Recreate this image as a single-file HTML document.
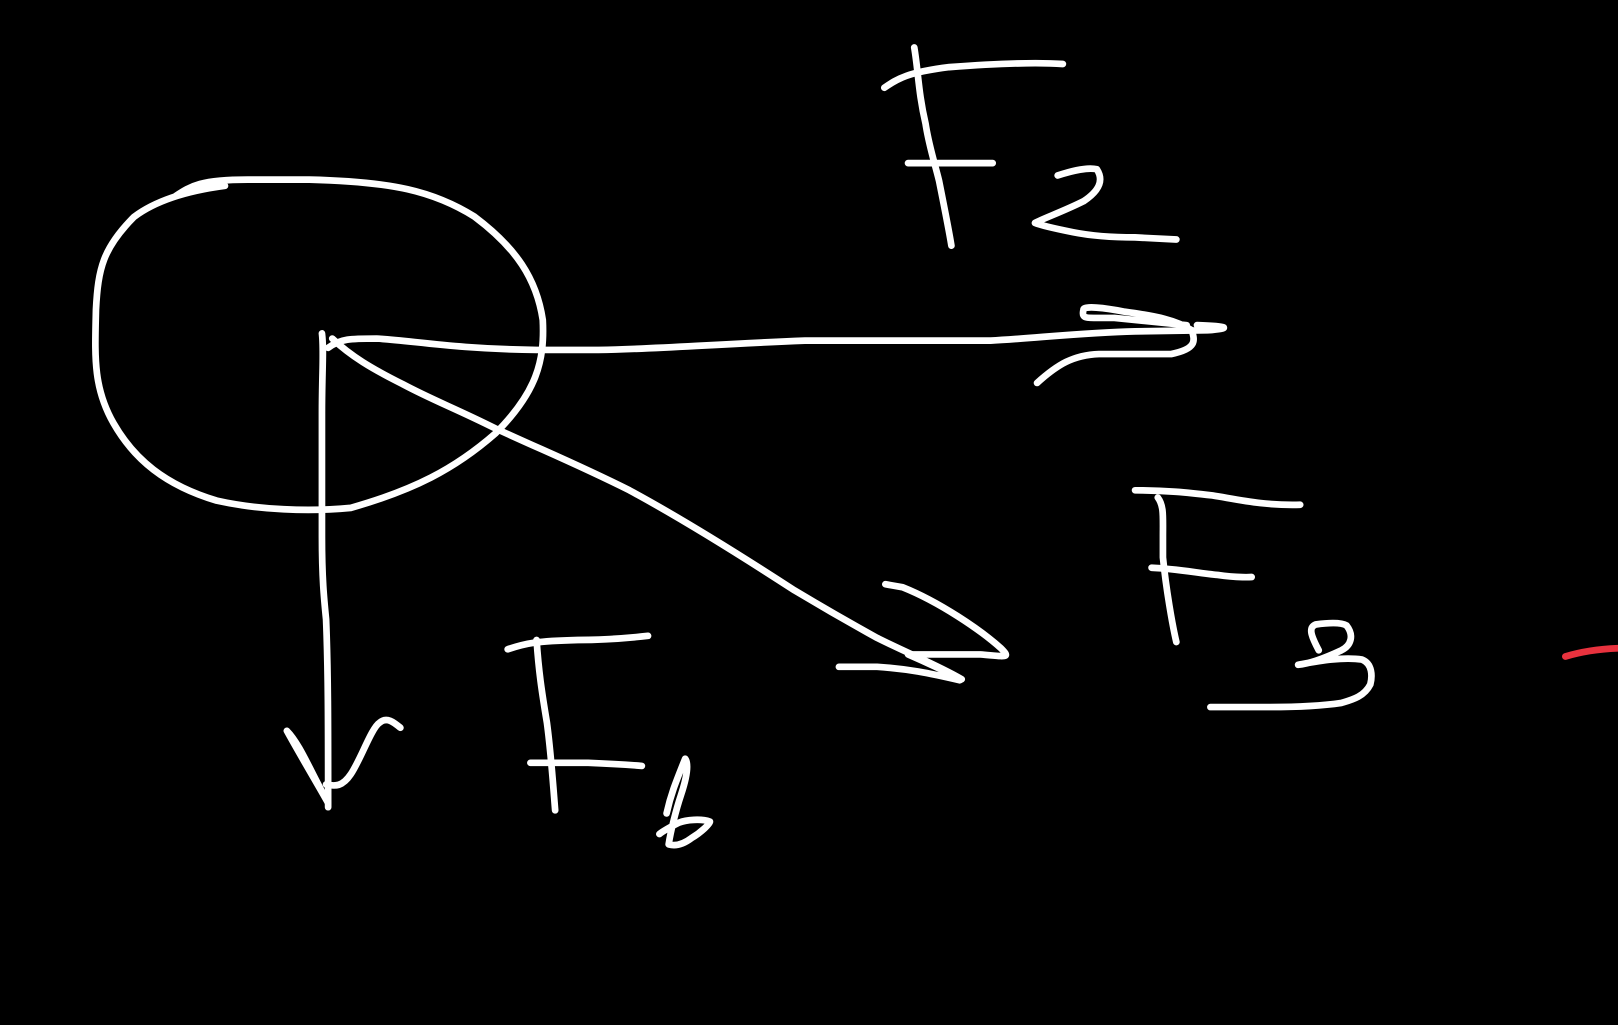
<!DOCTYPE html>
<html><head><meta charset="utf-8"><style>
html,body{margin:0;padding:0;background:#000;width:1618px;height:1025px;overflow:hidden}
svg{display:block}
</style></head><body>
<svg width="1618" height="1025" viewBox="0 0 1568 993" preserveAspectRatio="none" xmlns="http://www.w3.org/2000/svg">
<rect width="1568" height="993" fill="#000"/>
<g fill="none" stroke="#fff" stroke-width="6.5" stroke-linecap="round" stroke-linejoin="round">
<path d="M170,190 C185,180 195,174 240,174 L300,174 C380,176 420,185 460,210 C500,240 520,270 526,310 C528,350 520,380 480,420 C440,455 400,475 340,492 C300,496 250,494 210,485 C160,470 130,445 110,410 C90,375 92,345 93,300 C95,260 100,240 130,210 C150,195 180,185 218,180"/>
<path d="M312,323 C314,340 312,360 312,400 L312,520 C312,560 314,580 316,600 C318,650 318,700 318,782"/>
<path d="M278,708 C290,720 300,745 318,778 C308,760 290,730 278,708"/>
<path d="M316,760 C325,762 332,762 340,750 C350,735 360,705 368,700 C375,694 382,700 388,705"/>
<path d="M318,337 C330,328 340,328 365,328 C400,330 440,338 520,339 L580,339 C640,338 680,334 780,330 L960,330 C1000,328 1050,322 1100,321 L1170,320 C1195,318 1190,316 1160,315"/>
<path d="M1005,371 C1025,353 1040,344 1065,343 L1135,343 C1160,338 1158,330 1155,320 C1140,310 1120,306 1090,302 C1070,298 1050,296 1050,300 C1048,308 1052,308 1060,308 L1080,308 C1100,310 1120,312 1150,315"/>
<path d="M322,328 C340,345 360,357 390,372 C420,388 440,395 480,415 C530,438 560,450 610,475 C660,502 710,533 770,572 C800,590 830,607 850,618 C880,633 910,645 932,658"/>
<path d="M813,646 L850,646 C880,648 900,652 930,659 C935,658 880,634 880,634 L950,634 C975,636 980,638 970,628 C950,610 910,583 875,569 L858,566"/>
<path d="M886,46 C890,70 890,90 897,120 C900,140 905,155 910,175 C915,200 920,225 922,238"/>
<path d="M857,85 C870,76 880,70 920,65 C960,62 1000,60 1030,62"/>
<path d="M880,158 L962,158"/>
<path d="M1025,170 C1040,165 1055,162 1063,164 C1070,175 1065,185 1050,195 C1030,205 1010,212 1003,216 C1010,219 1025,222 1040,225 C1060,229 1080,230 1100,230 L1140,232"/>
<path d="M1100,475 C1130,475 1150,477 1175,480 C1200,484 1225,490 1260,489"/>
<path d="M1122,482 C1128,490 1127,500 1127,520 L1127,540 C1130,570 1136,605 1140,622"/>
<path d="M1116,550 C1140,551 1160,555 1180,557 C1200,560 1213,559 1213,559"/>
<path d="M1278,630 C1270,615 1268,608 1275,605 C1290,603 1300,603 1305,606 C1312,615 1310,625 1300,630 C1285,637 1270,643 1258,644 C1275,641 1300,636 1320,639 C1330,643 1330,655 1328,663 C1322,675 1310,678 1300,681 C1280,684 1260,685 1230,685 L1173,685"/>
<path d="M492,629 C510,623 520,621 560,620 C590,620 610,618 628,616"/>
<path d="M520,620 C522,650 525,670 530,700 C534,730 536,760 538,785"/>
<path d="M514,739 L570,739 C595,740 610,741 622,742"/>
<path d="M646,788 C650,770 654,760 664,735 C668,740 665,755 660,770 C655,785 650,805 648,818 C655,820 662,818 670,812 C680,806 688,798 688,796 C680,793 665,794 658,797 C650,801 643,805 639,808"/>
</g>
<path d="M1517,636 C1530,632 1545,629 1568,628" fill="none" stroke="#e8323e" stroke-width="6.5" stroke-linecap="round"/>
<text x="-100" y="-100" fill="#000" font-family="Liberation Sans, sans-serif" font-size="10">F2 F3 Fb v</text>
</svg>
</body></html>
